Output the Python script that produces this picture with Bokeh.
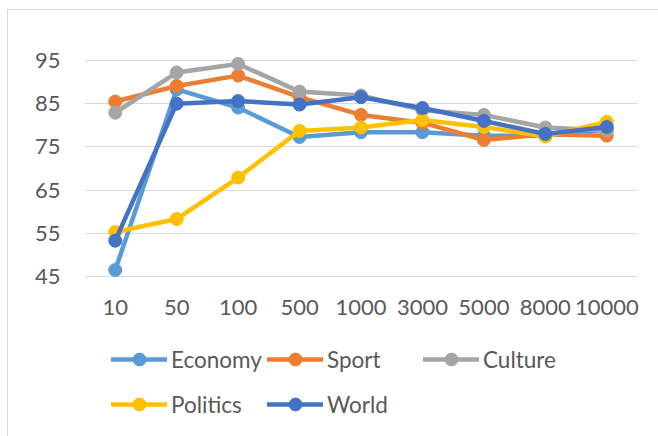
from bokeh.plotting import figure
from bokeh.layouts import column
from bokeh.models import FactorRange, Range1d, FixedTicker, Legend, LegendItem
from bokeh.embed import file_html
from bokeh.resources import INLINE

categories = ["10", "50", "100", "500", "1000", "3000", "5000", "8000", "10000"]
economy = [46.5, 88.3, 84.1, 77.3, 78.4, 78.4, 77.6, 77.6, 79.0]
sport = [85.5, 89.1, 91.5, 86.5, 82.4, 80.6, 76.6, 77.9, 77.6]
culture = [82.9, 92.2, 94.2, 87.8, 86.9, 83.5, 82.4, 79.5, 78.8]
politics = [55.3, 58.3, 67.9, 78.7, 79.5, 81.2, 79.6, 77.4, 80.8]
world = [53.3, 85.0, 85.6, 84.8, 86.5, 84.0, 81.0, 78.0, 79.6]
y_ticks = [45, 55, 65, 75, 85, 95]

series = [
    ("Economy", economy, "#5B9BD5"),
    ("Sport", sport, "#ED7D31"),
    ("Culture", culture, "#A5A5A5"),
    ("Politics", politics, "#FFC000"),
    ("World", world, "#4472C4"),
]

FONT = "Lato"
TXT = "#595959"
LW = 4.5
MS = 13

p = figure(
    width=650, height=326,
    x_range=FactorRange(factors=categories, range_padding=0),
    y_range=Range1d(43.38, 97.31),
    output_backend="svg", toolbar_location=None,
    min_border_left=76, min_border_right=21, min_border_top=40, min_border_bottom=53,
)
p.outline_line_color = None
p.background_fill_color = "white"
p.border_fill_color = "white"

p.xgrid.grid_line_color = None
p.ygrid.grid_line_color = "#d9d9d9"
p.ygrid.grid_line_width = 1.2
p.yaxis.ticker = FixedTicker(ticks=y_ticks)

for ax in (p.xaxis, p.yaxis):
    ax.axis_line_color = None
    ax.major_tick_line_color = None
    ax.minor_tick_line_color = None
    ax.major_tick_out = 0
    ax.major_tick_in = 0
    ax.major_label_text_font = FONT
    ax.major_label_text_font_size = "22px"
    ax.major_label_text_color = TXT
p.yaxis.major_label_standoff = 24
p.xaxis.major_label_standoff = 16

for name, vals, color in series:
    p.line(categories, vals, line_color=color, line_width=LW, line_join="round", line_cap="round")
    p.scatter(categories, vals, size=MS, fill_color=color, line_color=color)

# legend strip below the chart (its own frame, so the legend is not clipped)
lf = figure(
    width=650, height=100,
    x_range=FactorRange(factors=categories, range_padding=0),
    y_range=Range1d(0, 1),
    x_axis_type=None, y_axis_type=None,
    output_backend="svg", toolbar_location=None,
    min_border_left=0, min_border_right=0, min_border_top=0, min_border_bottom=0,
)
lf.outline_line_color = None
lf.grid.visible = False
lf.background_fill_color = "white"
lf.border_fill_color = "white"

items = {}
for name, vals, color in series:
    # same series, outside this strip's y range: only their legend glyphs show
    lr = lf.line(categories, vals, line_color=color, line_width=LW, line_cap="round")
    sr = lf.scatter(categories, vals, size=MS, fill_color=color, line_color=color)
    items[name] = LegendItem(label=name, renderers=[lr, sr])

legend_columns = [
    (["Economy", "Politics"], (27, 16)),
    (["Sport", "World"], (183, 16)),
    (["Culture"], (339, 61)),
]
for names, loc in legend_columns:
    lg = Legend(
        items=[items[n] for n in names], location=loc,
        glyph_width=56, glyph_height=32, label_standoff=4, spacing=13,
        label_text_font=FONT, label_text_font_size="22.5px", label_text_color=TXT,
        border_line_color=None, background_fill_alpha=0,
        margin=0, padding=0,
    )
    lf.add_layout(lg, "center")

layout = column(
    p, lf, spacing=0, margin=(9, 0, 0, 7),
    styles={"border-left": "1px solid #d9d9d9", "border-top": "1px solid #d9d9d9"},
)

open("out.html", "w").write(file_html(layout, INLINE))
